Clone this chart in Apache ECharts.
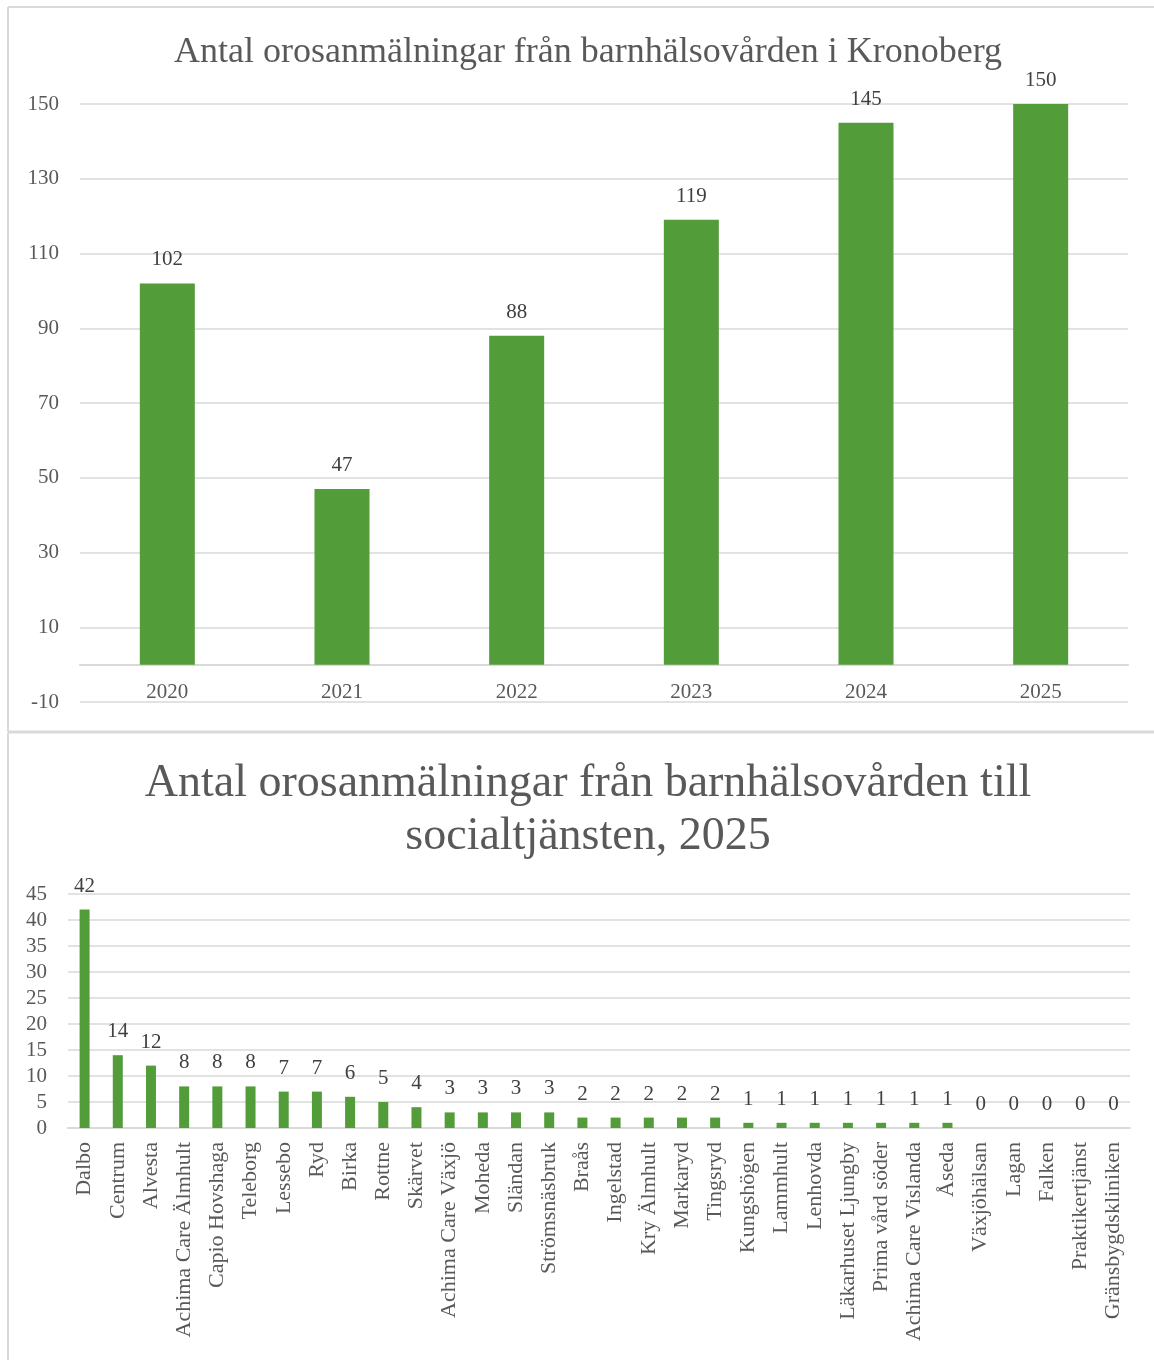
<!DOCTYPE html>
<html>
<head>
<meta charset="utf-8">
<script src="https://cdn.jsdelivr.net/npm/echarts@6/dist/echarts.min.js"></script>
<style>
  html, body { margin: 0; padding: 0; background: #fff; }
  #chart { width: 1154px; height: 1360px; }
</style>
</head>
<body>
<div id="chart"></div>
<script>
// Yearly totals
const years = ['2020', '2021', '2022', '2023', '2024', '2025'];
const yearlyCounts = [102, 47, 88, 119, 145, 150];

// Reports per child health clinic, 2025
const clinics = [
  'Dalbo', 'Centrum', 'Alvesta', 'Achima Care Älmhult', 'Capio Hovshaga', 'Teleborg',
  'Lessebo', 'Ryd', 'Birka', 'Rottne', 'Skärvet', 'Achima Care Växjö', 'Moheda',
  'Sländan', 'Strömsnäsbruk', 'Braås', 'Ingelstad', 'Kry Älmhult', 'Markaryd',
  'Tingsryd', 'Kungshögen', 'Lammhult', 'Lenhovda', 'Läkarhuset Ljungby',
  'Prima vård söder', 'Achima Care Vislanda', 'Åseda', 'Växjöhälsan', 'Lagan',
  'Falken', 'Praktikertjänst', 'Gränsbygdskliniken'
];
const clinicCounts = [42, 14, 12, 8, 8, 8, 7, 7, 6, 5, 4, 3, 3, 3, 3, 2, 2, 2, 2, 2,
  1, 1, 1, 1, 1, 1, 1, 0, 0, 0, 0, 0];

const topTitle = 'Antal orosanmälningar från barnhälsovården i Kronoberg';
const bottomTitle = 'Antal orosanmälningar från barnhälsovården till\nsocialtjänsten, 2025';

const FONT = '"Liberation Serif", "DejaVu Serif", serif';
const GREEN = '#539c3a';
const AXIS_TEXT = '#595959';
const VALUE_TEXT = '#404040';
const GRID = '#d9d9d9';

const chart = echarts.init(document.getElementById('chart'), null, { renderer: 'canvas' });

chart.setOption({
  animation: false,
  backgroundColor: '#fff',
  textStyle: { fontFamily: FONT },
  graphic: [
    // panel frames
    { type: 'line', shape: { x1: 8, y1: 7, x2: 1154, y2: 7 }, style: { stroke: GRID, lineWidth: 2 } },
    { type: 'line', shape: { x1: 8, y1: 7, x2: 8, y2: 732 }, style: { stroke: GRID, lineWidth: 2 } },
    { type: 'line', shape: { x1: 8, y1: 732, x2: 1154, y2: 732 }, style: { stroke: GRID, lineWidth: 3 } },
    { type: 'line', shape: { x1: 8, y1: 733, x2: 8, y2: 1360 }, style: { stroke: GRID, lineWidth: 2 } }
  ],
  title: [
    {
      text: topTitle,
      left: 583, textAlign: 'center', top: 30,
      textStyle: { fontFamily: FONT, fontSize: 36, fontWeight: 'normal', color: AXIS_TEXT }
    },
    {
      text: bottomTitle,
      left: 583, textAlign: 'center', top: 752,
      textStyle: { fontFamily: FONT, fontSize: 46, fontWeight: 'normal', color: AXIS_TEXT, lineHeight: 53 }
    }
  ],
  grid: [
    { left: 80, right: 26, top: 104, bottom: 658, containLabel: false },
    { left: 68, right: 24, top: 894, bottom: 232, containLabel: false }
  ],
  xAxis: [
    {
      type: 'category', gridIndex: 0, data: years,
      axisLine: { onZero: true, lineStyle: { color: GRID, width: 2 } },
      axisTick: { show: false },
      // year labels sit between the zero line and the -10 gridline
      axisLabel: { color: AXIS_TEXT, fontFamily: FONT, fontSize: 21, margin: -20 }
    },
    {
      type: 'category', gridIndex: 1, data: clinics,
      axisLine: { lineStyle: { color: GRID, width: 2 } },
      axisTick: { show: false },
      axisLabel: { color: AXIS_TEXT, fontFamily: FONT, fontSize: 22, rotate: 90, interval: 0, margin: 14 }
    }
  ],
  yAxis: [
    {
      type: 'value', gridIndex: 0, min: -10, max: 150, interval: 20,
      axisLine: { show: false }, axisTick: { show: false },
      splitLine: { lineStyle: { color: GRID, width: 1.5 } },
      axisLabel: { color: AXIS_TEXT, fontFamily: FONT, fontSize: 21, margin: 21 }
    },
    {
      type: 'value', gridIndex: 1, min: 0, max: 45, interval: 5,
      axisLine: { show: false }, axisTick: { show: false },
      splitLine: { lineStyle: { color: GRID, width: 1.5 } },
      axisLabel: { color: AXIS_TEXT, fontFamily: FONT, fontSize: 21, margin: 21 }
    }
  ],
  series: [
    {
      type: 'bar', xAxisIndex: 0, yAxisIndex: 0, data: yearlyCounts,
      barWidth: 55, itemStyle: { color: GREEN },
      label: { show: true, position: 'top', distance: 13, color: VALUE_TEXT, fontFamily: FONT, fontSize: 21 }
    },
    {
      type: 'bar', xAxisIndex: 1, yAxisIndex: 1, data: clinicCounts,
      barWidth: 10, itemStyle: { color: GREEN },
      label: { show: true, position: 'top', distance: 13, color: VALUE_TEXT, fontFamily: FONT, fontSize: 21 }
    }
  ]
});
</script>
</body>
</html>
